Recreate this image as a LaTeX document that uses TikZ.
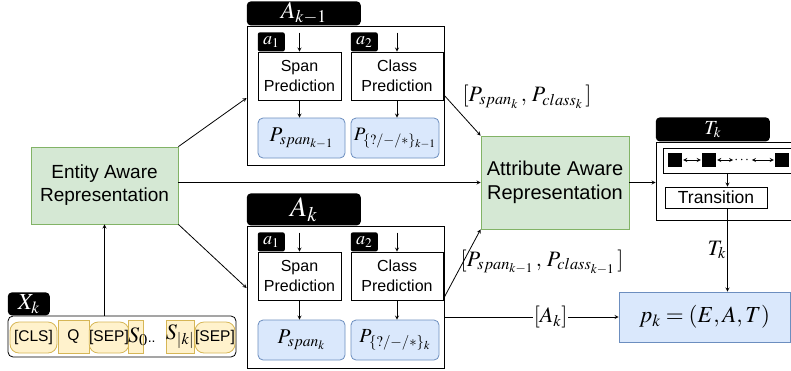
\documentclass[tikz,border=0pt]{standalone}
\usepackage{amsmath}
\usepackage{mathptmx}
\usepackage{fontspec}
\setmainfont{Liberation Sans}
\usetikzlibrary{arrows}
\definecolor{greenfill}{HTML}{D5E8D4}
\definecolor{greenline}{HTML}{82B366}
\definecolor{bluefill}{HTML}{DAE8FC}
\definecolor{blueline}{HTML}{6C8EBF}
\definecolor{yellowfill}{HTML}{FFF2CC}
\definecolor{yellowline}{HTML}{D6B656}
\tikzstyle{arrow} = [line width=0.8pt,->,>=stealth]
\tikzstyle{dblarrow} = [line width=0.8pt,<->,>=stealth,shorten <=1pt,shorten >=1pt]
\tikzstyle{frame} = [draw, line width=0.8pt]
\tikzstyle{tab} = [fill=black, text=white, rounded corners=4pt, inner sep=0pt]
\tikzstyle{smalltab} = [tab, rounded corners=2pt, minimum width=27, minimum height=19, font=\fontsize{18}{20}\selectfont]
\tikzstyle{greenbox} = [draw=greenline, fill=greenfill, line width=0.8pt, align=center, font=\fontsize{19}{23}\selectfont]
\tikzstyle{bluebox} = [draw=blueline, fill=bluefill, rounded corners=5pt, line width=0.8pt, inner sep=0pt, font=\fontsize{21}{24}\selectfont]
\tikzstyle{predbox} = [draw, fill=white, line width=0.8pt, align=center, inner sep=0pt, font=\fontsize{16}{20}\selectfont]
\tikzstyle{tok} = [draw=yellowline, fill=yellowfill, line width=0.8pt, inner sep=0pt, font=\fontsize{15.5}{18}\selectfont]
\tikzstyle{mathlbl} = [inner sep=1pt, font=\fontsize{22}{24}\selectfont]

\begin{document}
\begin{tikzpicture}[x=1pt,y=-1pt]
	\useasboundingbox (0,0) rectangle (791,370);
	
	% input sequence
	\node[frame, rounded corners=5pt, minimum width=228, minimum height=41] (xseq) at (122,336.5) {};
	\node[tab, anchor=south west, minimum width=42, minimum height=23, font=\fontsize{23}{26}\selectfont] (xtab) at (xseq.north west) {$X_k$};
	\node[tok, rounded corners=9pt, minimum width=47, minimum height=31] (cls) at (33.5,337.5) {[CLS]};
	\node[tok, minimum width=31, minimum height=33] (q) at (73.5,336.5) {Q};
	\node[tok, rounded corners=9pt, minimum width=38, minimum height=31] (sepa) at (109,337.5) {[SEP]};
	\node[tok, minimum width=15, minimum height=33] (szero) at (135.5,336.5) {};
	\node[anchor=west, inner sep=0pt, font=\fontsize{22}{24}\selectfont] (szerotxt) at (128,337) {$S_0$\fontsize{14}{16}\selectfont..};
	\node[tok, minimum width=28, minimum height=33, font=\fontsize{22}{24}\selectfont] (sk) at (180,336.5) {$S_{|k|}$};
	\node[tok, rounded corners=9pt, minimum width=40, minimum height=31] (sepb) at (215,337.5) {[SEP]};
	
	\node[greenbox, minimum width=147, minimum height=77] (ent) at (104.5,185.5) {Entity Aware\\Representation};
	\draw[arrow] (xseq.north -| ent.south) -- (ent.south);
	
	% A_{k-1}
	\node[frame, fill=white, minimum width=197, minimum height=139] (aprev) at (345.5,95.5) {};
	\node[tab, anchor=south west, minimum width=114, minimum height=24, font=\fontsize{24}{26}\selectfont] (aprevtab) at (aprev.north west) {$A_{k-1}$};
	\node[predbox, minimum width=83, minimum height=48] (spanprev) at (299.5,76) {Span\\Prediction};
	\node[smalltab, anchor=south west] (aoneprev) at (spanprev.north west) {$a_1$};
	\node[predbox, minimum width=92, minimum height=48] (classprev) at (397,76) {Class\\Prediction};
	\node[smalltab, anchor=south west] (atwoprev) at (classprev.north west) {$a_2$};
	\node[bluebox, minimum width=87, minimum height=40] (pspanprev) at (301.5,138) {$P_{span_{k-1}}$};
	\node[bluebox, minimum width=88, minimum height=40, font=\fontsize{19}{22}\selectfont] (pclassprev) at (395,138) {$P_{\{?/-/\ast\}_{k-1}}$};
	\draw[arrow] ([yshift=19pt]spanprev.north) -- (spanprev.north);
	\draw[arrow] ([yshift=19pt]classprev.north) -- (classprev.north);
	\draw[arrow] (spanprev.south) -- (spanprev.south |- pspanprev.north);
	\draw[arrow] (classprev.south) -- (classprev.south |- pclassprev.north);
	
	% A_k
	\node[frame, fill=white, minimum width=197, minimum height=142] (acur) at (345.5,297) {};
	\node[tab, anchor=south west, minimum width=114, minimum height=32, font=\fontsize{28}{30}\selectfont] (acurtab) at (acur.north west) {$A_k$};
	\node[predbox, minimum width=83, minimum height=48] (spancur) at (299.5,276) {Span\\Prediction};
	\node[smalltab, anchor=south west] (aonecur) at (spancur.north west) {$a_1$};
	\node[predbox, minimum width=92, minimum height=48] (classcur) at (397,276) {Class\\Prediction};
	\node[smalltab, anchor=south west] (atwocur) at (classcur.north west) {$a_2$};
	\node[bluebox, minimum width=87, minimum height=40] (pspancur) at (301.5,340) {$P_{span_k}$};
	\node[bluebox, minimum width=88, minimum height=40, font=\fontsize{20}{22}\selectfont] (pclasscur) at (395,340) {$P_{\{?/-/\ast\}_k}$};
	\draw[arrow] ([yshift=19pt]spancur.north) -- (spancur.north);
	\draw[arrow] ([yshift=19pt]classcur.north) -- (classcur.north);
	\draw[arrow] (spancur.south) -- (spancur.south |- pspancur.north);
	\draw[arrow] (classcur.south) -- (classcur.south |- pclasscur.north);
	
	\node[greenbox, font=\fontsize{20}{24}\selectfont, minimum width=148, minimum height=93] (attr) at (555,182.5) {Attribute Aware\\Representation};
	
	% T_k
	\node[frame, fill=white, minimum width=140, minimum height=78] (tframe) at (726,181) {};
	\node[tab, anchor=south west, minimum width=114, minimum height=24, font=\fontsize{20}{22}\selectfont] (ttab) at (tframe.north west) {$T_k$};
	\node[frame, minimum width=129, minimum height=25] (chain) at (727.5,160.5) {};
	\node[fill=black, minimum size=14, inner sep=0pt] (qa) at (675,160) {};
	\node[fill=black, minimum size=14, inner sep=0pt] (qb) at (709,160) {};
	\node[inner sep=0pt, font=\fontsize{14}{16}\selectfont] (qdots) at (742.5,160) {$\cdots$};
	\node[fill=black, minimum size=14, inner sep=0pt] (qc) at (782,160) {};
	\draw[dblarrow] (qa) -- (qb);
	\draw[dblarrow] (qb) -- (qdots);
	\draw[dblarrow] (qdots) -- (qc);
	\node[predbox, minimum width=102, minimum height=21, font=\fontsize{17.5}{20}\selectfont] (trans) at (716,197.5) {Transition};
	\draw[arrow] (chain.south) -- (chain.south |- trans.north);
	
	\node[bluebox, rounded corners=0pt, minimum width=171, minimum height=50, font=\fontsize{23}{26}\selectfont] (pk) at (704.5,317) {$p_k=(E,A,T)$};
	\draw[arrow] (trans.south -| chain.south) -- node[mathlbl, left] (tklab) {$T_k$} (chain.south |- pk.north);
	
	% connectors
	\draw[arrow] (ent.north east) -- ([yshift=-2.5pt]aprev.west);
	\draw[arrow] (ent.south east) -- ([yshift=9pt]acur.west);
	\draw[arrow] (ent.east |- attr.west) -- (attr.west);
	\draw[arrow] (aprev.east) -- (attr.north west);
	\draw[arrow] (acur.east) -- (attr.south west);
	\draw[arrow] (acur.east |- pk.west) -- node[mathlbl, pos=0.61, fill=white] (aklab) {$[A_k]$} (pk.west);
	\draw[arrow] (attr.east) -- (attr.east -| tframe.west);
	\node[mathlbl] (lblprev) at (527,97) {$[P_{span_k}\,,\,P_{class_k}\,]$};
	\node[mathlbl] (lblcur) at (542,262) {$[P_{span_{k-1}}\,,\,P_{class_{k-1}}\,]$};
\end{tikzpicture}
\end{document}
